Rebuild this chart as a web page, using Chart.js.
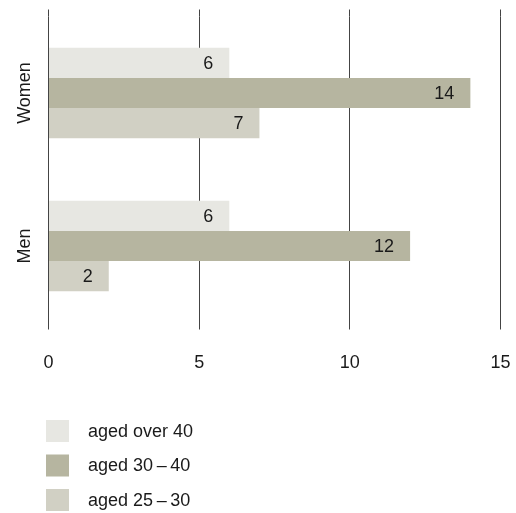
<!DOCTYPE html>
<html>
<head>
<meta charset="utf-8">
<script src="https://cdn.jsdelivr.net/npm/chart.js@4"></script>
<style>
  html, body { margin: 0; padding: 0; background: #fff; }
  #wrap { width: 516px; height: 513px; }
</style>
</head>
<body>
<div id="wrap"><canvas id="myChart" width="516" height="513"></canvas></div>
<script>
const groups = ['Women', 'Men'];
const seriesNames = ['aged over 40', 'aged 30\u2009\u2013\u200940', 'aged 25\u2009\u2013\u200930'];
const over40 = [6, 6];
const aged30to40 = [14, 12];
const aged25to30 = [7, 2];
const xTicks = [0, 5, 10, 15];
const colours = ['#e7e7e2', '#b6b5a0', '#d1d0c4'];

const textColour = '#1a1a1a';
const fontFamily = '"Liberation Sans", Arial, sans-serif';

// value labels, group labels, grid stubs above the plot and the vertical legend
const extras = {
    id: 'extras',
    beforeDatasetsDraw(chart) {
        const ctx = chart.ctx;
        const xs = chart.scales.x;
        ctx.save();
        ctx.strokeStyle = '#444';
        ctx.lineWidth = 1;
        xTicks.forEach((t) => {
            // same pixel alignment chart.js uses for its grid lines
            const px = Math.round(xs.getPixelForValue(t) - 0.5) + 0.5;
            ctx.beginPath();
            ctx.moveTo(px, chart.chartArea.top - 7);
            ctx.lineTo(px, chart.chartArea.top);
            ctx.stroke();
        });
        ctx.restore();
    },
    afterDatasetsDraw(chart) {
        const ctx = chart.ctx;
        ctx.save();
        ctx.font = '18px ' + fontFamily;
        ctx.fillStyle = textColour;
        ctx.textAlign = 'right';
        ctx.textBaseline = 'middle';
        chart.data.datasets.forEach((ds, i) => {
            chart.getDatasetMeta(i).data.forEach((bar, j) => {
                ctx.fillText(String(ds.data[j]), bar.x - 16, bar.y + 1);
            });
        });

        // rotated group labels
        const ys = chart.scales.y;
        ctx.textAlign = 'center';
        groups.forEach((g, j) => {
            ctx.save();
            ctx.translate(25, ys.getPixelForValue(j));
            ctx.rotate(-Math.PI / 2);
            ctx.fillText(g, 0, 0);
            ctx.restore();
        });

        // legend
        ctx.textAlign = 'left';
        chart.data.datasets.forEach((ds, i) => {
            const top = 420 + i * 34.5;
            ctx.fillStyle = ds.backgroundColor;
            ctx.fillRect(46, top, 23, 22);
            ctx.fillStyle = textColour;
            ctx.fillText(ds.label, 88, top + 12);
        });
        ctx.restore();
    }
};

const ctx = document.getElementById('myChart').getContext('2d');
const myChart = new Chart(ctx, {
    type: 'bar',
    data: {
        labels: groups,
        datasets: [
            { label: seriesNames[0], data: over40, backgroundColor: colours[0] },
            { label: seriesNames[1], data: aged30to40, backgroundColor: colours[1] },
            { label: seriesNames[2], data: aged25to30, backgroundColor: colours[2] }
        ]
    },
    options: {
        indexAxis: 'y',
        responsive: false,
        animation: false,
        datasets: {
            bar: { categoryPercentage: 0.59, barPercentage: 1, borderWidth: 0 }
        },
        layout: { padding: { top: 16.5, right: 15.5, left: 0, bottom: 0 } },
        plugins: {
            legend: { display: false },
            tooltip: { enabled: false }
        },
        scales: {
            x: {
                min: 0,
                max: 15,
                afterBuildTicks: (scale) => { scale.ticks = xTicks.map((v) => ({ value: v })); },
                afterFit: (scale) => {
                    scale.height = 513 - 16.5 - 306;
                    scale.paddingLeft = 0;
                    scale.paddingRight = 0;
                },
                border: { display: false },
                grid: { color: '#444', lineWidth: 1, tickLength: 7, drawTicks: true },
                ticks: {
                    color: textColour,
                    font: { size: 18, family: fontFamily },
                    padding: 23,
                    maxRotation: 0
                }
            },
            y: {
                afterFit: (scale) => { scale.width = 48.5; },
                border: { display: false },
                grid: { display: false },
                ticks: { display: false }
            }
        }
    },
    plugins: [extras]
});
</script>
</body>
</html>
